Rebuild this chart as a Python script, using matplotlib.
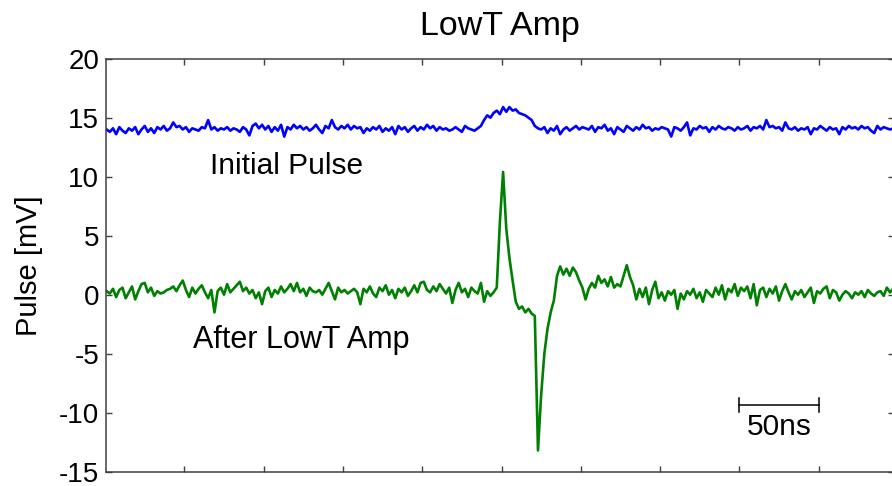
import numpy as np
import matplotlib
matplotlib.use('Agg')
import matplotlib.pyplot as plt

plt.rcParams['font.family'] = ['Liberation Sans', 'DejaVu Sans']
plt.rcParams['axes.unicode_minus'] = False

# samples every 2 ns, starting at 1 ns
t_start = 1.0
t_step = 2.0

initial_pulse = [
    14.0, 13.8, 14.1, 13.6, 14.2, 13.9, 13.7, 14.1, 13.9, 14.2,
    13.6, 14.0, 14.3, 13.8, 14.1, 13.7, 14.2, 14.0, 14.3, 13.9,
    14.1, 14.6, 14.2, 14.3, 14.0, 14.2, 13.8, 14.1, 14.0, 13.9,
    14.2, 14.1, 14.8, 14.0, 14.2, 13.9, 14.1, 14.0, 14.2, 13.9,
    14.1, 14.0, 13.8, 14.2, 14.0, 13.5, 14.3, 14.5, 14.1, 14.4,
    14.0, 14.3, 13.8, 14.2, 13.9, 14.4, 13.4, 14.2, 14.0, 14.4,
    14.1, 14.3, 14.0, 14.2, 13.9, 14.1, 14.4, 14.0, 13.7, 14.3,
    14.1, 14.8, 14.2, 14.0, 14.3, 14.1, 14.4, 14.0, 14.3, 14.1,
    14.2, 13.7, 14.1, 13.9, 14.2, 14.0, 14.3, 13.8, 14.1, 13.9,
    14.2, 13.6, 14.3, 14.0, 14.2, 13.8, 14.1, 14.3, 13.9, 14.2,
    14.0, 14.4, 14.1, 14.3, 13.9, 14.2, 14.0, 14.1, 13.9, 14.0,
    14.2, 14.0, 13.8, 14.3, 14.1, 14.0, 13.9, 14.1,
    14.3, 14.8, 15.2, 15.0, 15.4, 15.6, 15.3, 15.9, 15.5, 15.9,
    15.6, 15.7, 15.4, 15.3, 15.2, 15.0, 14.8, 14.3, 14.1,
    14.0, 14.2, 13.7, 14.1, 13.9, 14.3, 13.6, 14.0, 14.2, 13.9,
    14.1, 14.3, 14.0, 14.2, 14.1, 14.0, 14.3, 13.8, 14.2, 14.1,
    14.4, 13.9, 14.1, 13.6, 14.2, 14.0, 13.8, 14.3, 14.1, 13.9,
    14.2, 14.0, 14.4, 14.1, 14.2, 13.9, 14.1, 14.0, 14.2, 14.1,
    14.0, 13.4, 14.2, 14.1, 13.9, 14.2, 14.6, 13.5, 14.1, 14.0,
    14.3, 14.1, 14.2, 13.8, 14.2, 14.0, 14.3, 14.1, 14.0, 14.2,
    14.1, 13.9, 14.2, 14.0, 14.1, 14.3, 13.9, 14.2, 14.1, 14.3,
    14.0, 14.8, 14.2, 14.3, 14.1, 14.2, 13.9, 14.6, 14.1, 14.0,
    14.2, 13.9, 14.1, 14.0, 14.2, 13.6, 14.1, 14.0, 14.3, 14.1,
    13.9, 14.2, 14.0, 14.1, 13.6, 14.2, 14.0, 14.3, 14.1, 14.2,
    14.0, 14.3, 14.1, 14.2, 13.9, 13.7, 14.3, 14.0, 14.2, 14.1,
    14.0, 14.1,
]

after_amp = [
    0.3, 0.1, 0.5, -0.2, 0.4, 0.6, -0.3, 0.2, 0.7, -0.4,
    0.3, 0.9, 1.0, 0.2, 0.6, -0.1, 0.3, 0.1, 0.2, 0.4,
    0.5, 0.7, 0.3, 0.8, 1.2, 0.4, -0.2, 0.6, 0.1, 0.5,
    0.8, 0.2, -0.3, 0.4, -1.5, 0.3, 0.6, 0.0, 0.9, 0.2,
    0.5, 0.8, 1.1, 0.3, 0.6, 0.1, 0.4, -0.3, 0.2, -0.8,
    0.3, 0.6, -0.2, 0.4, 0.1, 0.7, 0.2, 0.5, 0.9, 0.3,
    1.0, 0.2, 0.5, -0.1, 0.6, 0.3, 0.2, 0.4, 0.0, 0.5,
    1.0, 0.3, -0.4, 0.6, 0.2, 0.4, 0.1, 0.3, 0.5, 0.2,
    -0.8, 0.5, 0.2, 0.7, 0.1, -0.2, 0.6, 0.3, 0.8, 0.0,
    0.4, -0.3, 0.5, 0.2, 0.6, -0.1, 0.3, 0.8, 0.2, 1.0,
    1.1, 0.4, 0.2, 0.7, 0.3, 0.9, 0.5, 0.1, 0.6, -0.7,
    0.4, 1.0, 0.2, 0.5, -0.2, 0.6, 0.3, 0.1, 1.0, -0.6,
    0.3, -0.1, 0.2,
    0.6, 6.2, 10.4, 5.6, 3.1, 1.2, -0.6, -1.2, -1.0, -1.5,
    -1.2, -1.6, -1.8, -13.2, -8.5, -5.0, -2.9, -1.5, -0.5, 1.6,
    2.4, 1.7, 2.2, 1.6, 2.3, 1.9, 1.2, 0.6, -0.4, 0.5,
    1.0, 0.6, 1.6, 1.0, 1.3, 0.7, 1.5, 0.6, 0.9, 0.7,
    1.6, 2.5, 1.5, 0.8, -0.4, 0.5, -0.2, 0.6, -0.8, 0.4,
    1.1,
    -0.3, 0.2, -0.5, 0.3, 0.0, 0.4, -1.2, 0.1, -0.4, 0.3,
    0.0, 0.5, -0.3, 0.2, -0.6, 0.4, 0.1, -0.2, 0.6, 0.0,
    0.8, -0.4, 0.5, 0.2, 0.9, -0.1, 0.6, 0.3, 0.7, -0.3,
    0.9, -0.9, 0.4, 0.6, -0.2, 0.5, 0.1, 0.7, -0.5, 0.3,
    0.9, 0.2, -0.4, 0.3, 0.0, 0.4, -0.2, 0.2, 0.6, -0.7,
    0.3, 0.1, 0.5, 0.7, -0.3, 0.4, 0.2, -0.5, 0.0, 0.3,
    0.1, -0.3, 0.2, 0.0, 0.3, -0.2, 0.4, 0.1, -0.1, 0.2,
    0.3, -0.1, 0.6, 0.2, 0.5,
]

t_blue = t_start + t_step * np.arange(len(initial_pulse))
t_green = t_start + t_step * np.arange(len(after_amp))

x_ticks = [50, 100, 150, 200, 250, 300, 350, 400, 450]
y_ticks = [-15, -10, -5, 0, 5, 10, 15, 20]

fig = plt.figure(figsize=(8.92, 4.86), dpi=100)
ax = fig.add_axes([106 / 892, 14.3 / 486, 788 / 892, 413 / 486])

ax.plot(t_blue, initial_pulse, color='#0000ff', lw=1.9)
ax.plot(t_green, after_amp, color='#008000', lw=1.9)

ax.set_xlim(0.6, 497.5)
ax.set_ylim(-15, 20)
ax.set_xticks(x_ticks)
ax.set_xticklabels([])
ax.set_yticks(y_ticks)
ax.tick_params(direction='in', top=True, right=True, length=4, width=1,
               color='#404040', labelsize=20, pad=5)
for s in ax.spines.values():
    s.set_color('#404040')
    s.set_linewidth(1.1)

ax.set_title('LowT Amp', fontsize=24.5, pad=17)
ax.set_ylabel('Pulse [mV]', fontsize=21)
ax.yaxis.set_label_coords(-0.08, 0.5)

ax.text(66, 10.9, 'Initial Pulse', fontsize=21.5, va='center', ha='left')
ax.text(55.5, -3.85, 'After LowT Amp', fontsize=22, va='center', ha='left')

# 50 ns scale bar
ax.plot([400, 450], [-9.35, -9.35], color='black', lw=1.1)
ax.plot([400, 400], [-9.95, -8.75], color='black', lw=1.1)
ax.plot([450, 450], [-9.95, -8.75], color='black', lw=1.1)
ax.text(425, -11.2, '50ns', fontsize=21.5, va='center', ha='center')

fig.savefig('out.png', dpi=100)
